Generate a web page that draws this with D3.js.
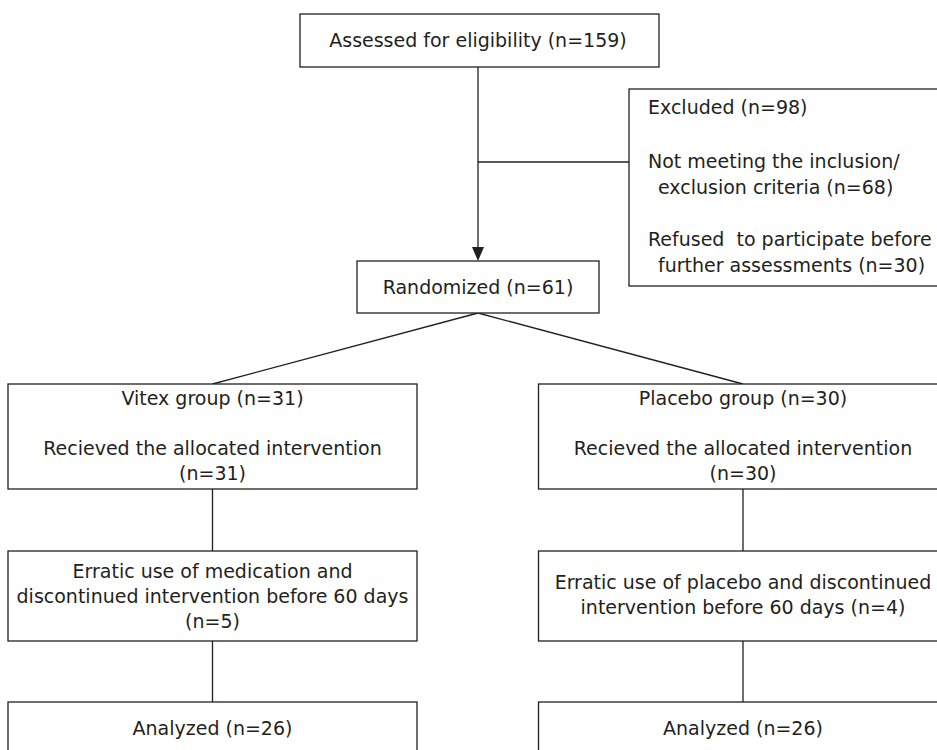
<!DOCTYPE html>
<html>
<head>
<meta charset="utf-8">
<script src="https://cdn.jsdelivr.net/npm/d3@7"></script>
<style>
  html, body { margin: 0; padding: 0; background: #fff; }
  svg { display: block; }
  text { font-family: "DejaVu Sans", sans-serif; font-size: 19px; fill: #231f20; white-space: pre; }
</style>
</head>
<body>
<svg id="chart" width="937" height="750"></svg>
<script>
// ---- data ----
const assessedCount = 159;
const excludedCount = 98;
const excludedReasons = [["Not meeting the inclusion/", "exclusion criteria"], ["Refused  to participate before", "further assessments"]];
const excludedReasonCounts = [68, 30];
const randomizedCount = 61;
const groups = ["Vitex", "Placebo"];
const allocated = [31, 30];
const received = [31, 30];
const discontinued = [5, 4];
const discontinuedWhat = ["medication", "placebo"];
const analyzed = [26, 26];

// ---- layout ----
const svg = d3.select("#chart");
const ink = "#231f20";
const sw = 1.3;

const xGroup = d3.scalePoint().domain(groups).range([212.5, 743]);
const groupBoxW = 409;
const rows = {
  alloc: [384, 489],
  disc: [551, 641],
  anal: [702, 790]
};
const topBox = {x: 300, y: 14, w: 359, h: 53};
const exclBox = {x: 629, y: 89, w: 330, h: 197};
const randBox = {x: 357, y: 261, w: 242, h: 52};
const midX = 478;

function box(x, y, w, h) {
  svg.append("rect").attr("x", x).attr("y", y).attr("width", w).attr("height", h)
    .attr("fill", "#fff").attr("stroke", ink).attr("stroke-width", sw);
}
function line(x1, y1, x2, y2) {
  svg.append("line").attr("x1", x1).attr("y1", y1).attr("x2", x2).attr("y2", y2)
    .attr("stroke", ink).attr("stroke-width", sw);
}
function label(str, x, y, anchor) {
  svg.append("text").attr("x", x).attr("y", y).attr("text-anchor", anchor || "middle")
    .attr("xml:space", "preserve").text(str);
}

// connectors
line(midX, topBox.y + topBox.h, midX, randBox.y - 13);
line(midX, 162, exclBox.x, 162);
svg.append("path")
  .attr("d", `M${midX - 6},${randBox.y - 14} L${midX + 6},${randBox.y - 14} L${midX},${randBox.y} Z`)
  .attr("fill", ink);
groups.forEach(g => {
  const cx = xGroup(g);
  line(midX, randBox.y + randBox.h, cx, rows.alloc[0]);
  line(cx, rows.alloc[1], cx, rows.disc[0]);
  line(cx, rows.disc[1], cx, rows.anal[0]);
});

// top box
box(topBox.x, topBox.y, topBox.w, topBox.h);
label(`Assessed for eligibility (n=${assessedCount})`, midX, 47);

// excluded box
box(exclBox.x, exclBox.y, exclBox.w, exclBox.h);
label(`Excluded (n=${excludedCount})`, 648, 114, "start");
const reasonY = [168, 246];
excludedReasons.forEach((r, i) => {
  label(r[0], 648, reasonY[i], "start");
  label(`${r[1]} (n=${excludedReasonCounts[i]})`, 658, reasonY[i] + 26, "start");
});

// randomized
box(randBox.x, randBox.y, randBox.w, randBox.h);
label(`Randomized (n=${randomizedCount})`, midX, 294);

// group boxes
groups.forEach((g, i) => {
  const cx = xGroup(g);
  const x0 = cx - groupBoxW / 2;
  box(x0, rows.alloc[0], groupBoxW, rows.alloc[1] - rows.alloc[0]);
  label(`${g} group (n=${allocated[i]})`, cx, 405);
  label("Recieved the allocated intervention", cx, 455);
  label(`(n=${received[i]})`, cx, 480);

  box(x0, rows.disc[0], groupBoxW, rows.disc[1] - rows.disc[0]);
  if (i === 0) {
    label(`Erratic use of ${discontinuedWhat[i]} and`, cx, 578);
    label("discontinued intervention before 60 days", cx, 603);
    label(`(n=${discontinued[i]})`, cx, 628);
  } else {
    label(`Erratic use of ${discontinuedWhat[i]} and discontinued`, cx, 589);
    label(`intervention before 60 days (n=${discontinued[i]})`, cx, 614);
  }

  box(x0, rows.anal[0], groupBoxW, rows.anal[1] - rows.anal[0]);
  label(`Analyzed (n=${analyzed[i]})`, cx, 735);
});
</script>
</body>
</html>
